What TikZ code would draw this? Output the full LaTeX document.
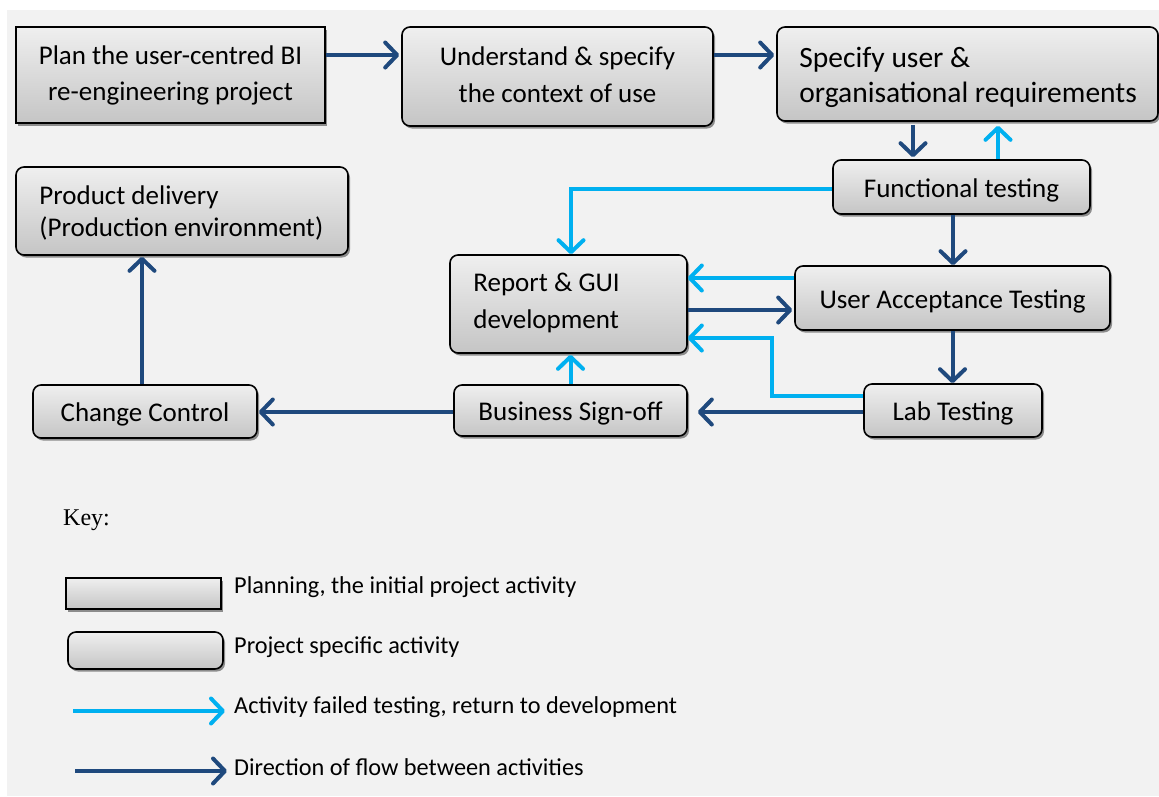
\documentclass[tikz,border=0pt]{standalone}
\usepackage{fontspec}
\setmainfont{Carlito}
\newfontfamily\keyfont{Liberation Serif}
\usetikzlibrary{arrows.meta,shadows}
\definecolor{flowblue}{HTML}{1F497D}
\definecolor{failblue}{HTML}{00B0F0}
\definecolor{canvas}{HTML}{F2F2F2}
\definecolor{boxtop}{HTML}{EFEFEF}
\definecolor{boxbot}{HTML}{C5C5C5}
\begin{document}
\begin{tikzpicture}[x=1pt,y=-1pt,
  box/.style={draw=black, line width=1.6pt, top color=boxtop, bottom color=boxbot,
    drop shadow={shadow xshift=2pt,shadow yshift=-2.5pt,fill=black!45,opacity=1},
    font=\fontsize{27}{36}\selectfont, inner sep=0pt, align=center},
  planbox/.style={box},
  actbox/.style={box, rounded corners=8pt},
  oneline/.style={text height=24pt, text depth=4pt},
  boxtext/.style={anchor=west, align=left, inner sep=0pt, font=\fontsize{27}{36}\selectfont},
  flow/.style={draw=flowblue, line width=4pt, -{Straight Barb[length=12pt,width=25pt,round]}},
  fail/.style={draw=failblue, line width=4pt, -{Straight Barb[length=12pt,width=25pt,round]}},
  keytext/.style={anchor=west, font=\fontsize{24.3}{28}\selectfont, inner sep=0pt}]

% page and grey canvas
\path[fill=white] (0,0) rectangle (1159,796);
\fill[canvas] (7,10) rectangle (1159,796);
\useasboundingbox (0,0) rectangle (1159,796);

% activities
\node[planbox, minimum width=309pt, minimum height=96pt] (plan) at (170.5,75)
  {Plan the user-centred BI\\re-engineering project};
\node[actbox, minimum width=311pt, minimum height=99pt] (und) at (557.5,76.5)
  {\raisebox{3pt}{\begin{tabular}{@{}c@{}}Understand \& specify\\[1pt]the context of use\end{tabular}}};
\node[actbox, minimum width=381pt, minimum height=94pt,
  label={[boxtext, xshift=23pt, yshift=-3.5pt, font=\fontsize{29.5}{35}\selectfont]west:{Specify user \&\\organisational requirements}}]
  (spec) at (967.5,74) {};
\node[actbox, oneline, minimum width=257pt, minimum height=54pt] (func) at (961.5,187) {Functional testing};
\node[actbox, minimum width=332pt, minimum height=88pt,
  label={[boxtext, xshift=24pt, yshift=-1.5pt, font=\fontsize{27}{32}\selectfont]west:{Product delivery\\(Production environment)}}]
  (prod) at (182,211) {};
\node[actbox, minimum width=237pt, minimum height=98pt,
  label={[boxtext, xshift=24pt, yshift=1.5pt, font=\fontsize{27}{37}\selectfont]west:{Report \& GUI\\development}}]
  (rep) at (568.5,304) {};
\node[actbox, oneline, minimum width=315pt, minimum height=64pt] (uat) at (952.5,298) {User Acceptance Testing};
\node[actbox, oneline, minimum width=224pt, minimum height=53pt] (cc) at (145,411.5) {Change Control};
\node[actbox, oneline, minimum width=233pt, minimum height=51pt] (bso) at (570.5,410.5) {Business Sign-off};
\node[actbox, oneline, minimum width=178pt, minimum height=53pt] (lab) at (953,410.5) {Lab Testing};

% connector anchor points
\coordinate (pA) at ([yshift=20pt]plan.east);
\coordinate (uA) at ([yshift=21.5pt]und.east);
\coordinate (sf) at ([xshift=-48.5pt]func.north);
\coordinate (fs) at ([xshift=36.5pt]func.north);
\coordinate (fr) at ([yshift=-2pt]func.west);
\coordinate (rn) at ([xshift=2.5pt]rep.north);
\coordinate (fu) at ([xshift=-8.5pt]func.south);
\coordinate (ur) at ([yshift=20pt]uat.west);
\coordinate (ru) at ([yshift=-6pt]rep.east);
\coordinate (lr) at ([yshift=14.5pt]lab.west);
\coordinate (rl) at ([yshift=-34pt]rep.east);
\coordinate (lb) at ([yshift=-1.5pt]lab.west);
\coordinate (bc) at ([yshift=-1.5pt]bso.west);
\coordinate (cp) at ([xshift=-3pt]cc.north);

% flow between activities
\draw[flow, shorten >=2pt] (pA) -- (pA -| und.west);
\draw[flow, shorten >=2pt] (uA) -- (uA -| spec.west);
\draw[flow, shorten <=3pt, shorten >=2pt] (sf |- spec.south) -- (sf);
\draw[flow] (fu) -- (fu |- uat.north);
\draw[flow, shorten >=2pt] (ru) -- (ru -| uat.west);
\draw[flow] (uat.south) -- (uat.south |- lab.north);
\draw[flow, shorten >=10pt] (lb) -- (lb -| bso.east);
\draw[flow, shorten >=1pt] (bc) -- (bc -| cc.east);
\draw[flow, shorten >=1pt] (cp) -- (cp |- prod.south);

% failed tests going back
\draw[fail, shorten >=4pt] (fs) -- (fs |- spec.south);
\draw[fail] (fr) -| (rn);
\draw[fail] (ur) -- (ur -| rep.east);
\draw[fail] (lr) -- ++(-91,0) |- (rl);
\draw[fail, shorten >=1pt] (bso.north) -- (bso.north |- rep.south);

% key
\node[anchor=west, inner sep=0pt, font=\keyfont\fontsize{24}{28}\selectfont] (key) at (63,520) {Key:};
\node[planbox, minimum width=155pt, minimum height=31pt] (kplan) at (143.5,593.5) {};
\node[actbox, minimum width=155pt, minimum height=37pt] (kact) at (145.5,650.5) {};
\coordinate (kfs) at (73,711);
\coordinate (kfe) at (225,711);
\coordinate (kds) at (75,771);
\coordinate (kde) at (227,771);
\draw[fail] (kfs) -- (kfe);
\draw[flow] (kds) -- (kde);
\node[keytext] (t1) at (234,587) {Planning, the initial project activity};
\node[keytext] (t2) at (234,647) {Project specific activity};
\node[keytext] (t3) at (234,707) {Activity failed testing, return to development};
\node[keytext] (t4) at (234,767) {Direction of flow between activities};
\end{tikzpicture}
\end{document}
